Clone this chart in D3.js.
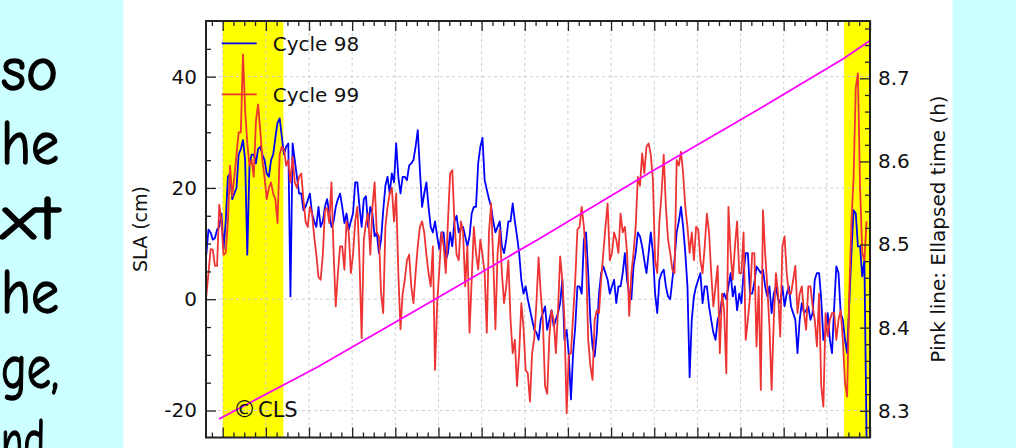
<!DOCTYPE html>
<html>
<head>
<meta charset="utf-8">
<script src="https://cdn.jsdelivr.net/npm/d3@7"></script>
<style>
  html, body { margin: 0; padding: 0; background: #ccffff; }
  svg { display: block; }
</style>
</head>
<body>
<div id="chart"></div>
<script>
// slide text fragments visible on the left edge
const slideText = ["so", "he", "xt", "he", "ge,", "nd"];

// along-track position of the first sample, and spacing between samples
const trackStart = -3.8;
const trackStep = 0.5;

// SLA (cm), cycle 98 (blue)
const cycle98 = [
  8, 12.5, 12, 10.7, 11, 12.5, 13, 15.4, 9, 14, 22, 22.6, 18, 19, 20, 26, 27, 28.6, 25, 8, 24, 26, 26, 24.4, 27, 27.4,
  26, 25, 22.6, 22, 25, 26, 29, 31.7, 32.5, 29.2, 26, 27.4, 28, 0.5, 28, 25, 22, 19, 19, 16, 16.6, 17.8, 19, 15.4, 14, 13,
  16.6, 13, 14, 16.6, 18, 15.4, 13, 14, 16.6, 18, 19, 16.6, 13.7, 15.4, 12.5, 14, 15.4, 21, 21, 16.6, 13, 18, 18.5, 13, 16.6, 15.4,
  11.3, 12, 8.3, 10.7, 16, 20.4, 22, 19, 22.6, 21, 28, 22, 19, 22, 22, 21.4, 24, 24.4, 25, 27.4, 30.4, 23.2, 16.6, 19, 21, 16.6,
  13, 12, 14, 11.3, 9, 12, 12, 7, 8.3, 12, 9.5, 14, 15, 12, 13, 13, 11.3, 9.5, 11.3, 15.4, 16.6, 16.6, 24.4, 27.4, 29,
  21.4, 19.7, 18, 16.6, 14, 12, 13, 14, 9.5, 8.3, 10.7, 14, 14, 17.2, 14, 11.3, 8.3, 3.5, 1, 2.3, 0, -1.9, -3.7, -5.5, -6,
  -7.3, -3.7, -2.5, -1.3, -5.5, -3.7, -2, -4.9, -3.7, -2.5, -0.7, 3.5, -7.3, -5.5, -10, -18, -9.7, -4.9, 2.3, 2.3, 1, 10.7, 12, 4.7, -3.7, -8.5,
  -10.3, -6, 1, 4.7, 5.9, 4.7, 3.5, 1, 2.3, 3.5, -0.7, 2.3, 2.3, 4.7, 8.3, 3.5, 1, 0, 5.9, 8.3, 12, 11.3, 9.5, 7, 4.7, 8.3,
  12, 8.3, 1, -2.5, 3.5, 4.7, 5.3, 2.3, 0.5, 0, 3.5, 7, 12, 14, 16.6, 13, 8.3, 2.3, -14, -3.7, 0.5, 2.3, 3.5, 4.7, -0.7, 2.3,
  2.3, -1.3, -3.7, -6, -7.3, -3.7, -2.5, 0, 1, 0, 2.3, 4.7, 0.5, 2.3, -2, 1, -0.7, 4.7, 8.3, 8.3, 1, 1, 3, 5.9, 5.3, 4.7,
  5.3, 2.3, 0.5, 2.3, -2.5, 1, 2.3, 0, -0.7, 2.3, -1.3, 1, 2.3, -1.3, -2.5, -3.7, -9.7, -3.7, -0.7, -2.5, -2, -1.3, -3.7, -2.5, 3.5,
  4.7, 4.7, 0, -7.3, -6, -2.5, -7.3, -9.7, -1.3, 5.9, 4.7, -2.5, -3.7, -7.3, -9.7, -0.7, 8.3, 16, 15.4, 9.5, 9.5, 4.1, 7, -24.7
];

// SLA (cm), cycle 99 (red)
const cycle99 = [
  0.5, 4.7, 9, 8.9, 6, 6, 17, 14, 8, 8.3, 14, 24, 18.5, 22, 26, 30, 30, 44, 34, 28, 24, 25, 22, 32, 35, 30.4,
  25, 22, 18, 20, 21, 19, 18, 13.7, 26, 27.4, 27, 24, 25, 21, 25.6, 21, 20, 22, 22.6, 18, 14, 13, 16.6, 15.4, 11.3, 8,
  4, 3.5, 8, 16, 16.4, 13.7, 21, 8.3, -1.3, 4.7, 9.5, 9.5, 5.3, 14, 12, 4.7, 8, 14, 16.6, 7, -7, 10.7, 13.7, 15.4, 8, 16.6,
  21, 12, 11.3, 1, -2.5, 13, 16.6, 19, 20, 14, 19, 4.7, -5.4, 1, 3.5, 7, 8, 2.3, -0.7, 4.7, 9.5, 13, 14, 12, 8, 4.7,
  2.3, 9.5, -12.7, -0.7, 5.3, 12, 9.5, 4.7, 14, 22.6, 23.2, 14, 8, 7, 14, 12, 2.3, 9.5, -6, 3.5, 13, 8.3, 5.3, 10.7, 8,
  4.7, -6, 12, 17.2, 7, -5.4, 8.3, 12.5, 4.7, -0.7, 2.3, 7, -3.7, -9.7, -7.3, -15.6, -9.7, -0.7, -5, -12.7, -13.3, -18.4, -9.7, -7, -0.7,
  7.5, 1, -4, -15.6, -17, -6.7, -2, -3.7, -9.7, -2, 7.7, 3.5, -3.7, -20.5, -10, -9.7, -3, 3.5, 12.5, 13, 16.6, 13, 7, -7.3, -12, -14.5,
  -3.7, -2, -2.5, 3.5, 8.3, 13, 17.2, 7, 8.3, 12, 10.7, 8.3, 15.4, 12, 13, 8.3, -3, 4.7, 8.3, 13, 22, 20.4, 26.2, 22.6, 27.4, 28,
  26, 21.4, 7, 4.7, 14, 19, 26, 16.6, 10.7, 8.3, 5.3, 4.7, 25, 24, 26.5, 22.6, 16.6, 13, 8.3, 12, 7, 13, 12.5, 7, 4.7, 9.5,
  15.4, 12, 4.7, -1.3, 2.3, 6, -9.7, 1, -2, -13.3, 16.6, 8.3, 3.5, 9.5, 14, 4.7, 4.7, 12, -7.3, -3.7, 0.5, 8.3, 8.3, -8.5, 2.3, -16.3,
  16, 8.3, 2.3, -5, -16.3, -3.7, 4.7, 1, -6.7, 9.5, 11.3, 4.7, 1, 1, 3.5, 6, -2.5, 1, 2.3, -2.5, -5.5, 2.3, 2.3, -1.3, -3.7,
  -8.5, 1, -15.6, -19.3, -2.5, -6.7, -3.7, -2.5, -2.5, -7.3, -3.7, -2, -7.3, -15, -17.5, 1, 14, 22, 38, 40.6, 20, 8.3, 7, 14
];

// pink line: elapsed time (h) along track
const pinkTrack = [-0.86, 22.1, 47.8, 73.55, 99.3, 125.0, 144.0, 149.93];
const pinkHours = [8.290, 8.353, 8.430, 8.5075, 8.5876, 8.6651, 8.7241, 8.7452];

// yellow highlighted stretches (along-track)
const bandStart = [0, 144];
const bandEnd = [14.05, 150];

const slaTicks = [-20, 0, 20, 40];
const hourTicks = [8.3, 8.4, 8.5, 8.6, 8.7];
const trackTicks = [0, 10, 20, 30, 40, 50, 60, 70, 80, 90, 100, 110, 120, 130, 140, 150];

const seriesNames = ["Cycle 98", "Cycle 99"];
const seriesColors = ["#0000ff", "#ee3333"];

(function() {
    const W = 1016, H = 448;
    const margin = {top: 21, left: 206};
    const width = 664;
    const height = 416.5;

    const root = d3.select("#chart").append("svg")
        .attr("width", W)
        .attr("height", H)
        .style("font-family", "'DejaVu Sans', sans-serif");

    // slide background: cyan sides, white panel
    root.append("rect").attr("width", W).attr("height", H).attr("fill", "#ccffff");
    root.append("rect").attr("x", 123.5).attr("y", 0).attr("width", 829).attr("height", H).attr("fill", "#ffffff");

    // cut-off slide text on the left, each fragment stretched to the same width as in the slide
    const fragWidth = [57, 58, 58, 58, 58, 44];
    slideText.forEach((t, i) => {
        root.append("text")
            .attr("x", 1)
            .attr("y", 90 + i * 74.4)
            .attr("textLength", fragWidth[i])
            .attr("lengthAdjust", "spacingAndGlyphs")
            .style("font-family", "'Comic Sans MS', 'Comic Neue', 'DejaVu Sans', sans-serif")
            .style("font-size", "62px")
            .style("fill", "#000")
            .style("stroke", "#000")
            .style("stroke-width", 1.4)
            .text(t);
    });

    const svg = root.append("g")
        .attr("transform", `translate(${margin.left},${margin.top})`);

    const x = d3.scaleLinear().domain([-3.87, 150]).range([0, width]);
    const y = d3.scaleLinear().domain([-24.85, 50]).range([height, 0]);
    const y2 = d3.scaleLinear().domain([8.2678, 8.769]).range([height, 0]);

    svg.append("clipPath").attr("id", "plot-clip")
        .append("rect").attr("width", width).attr("height", height);

    // yellow bands
    svg.selectAll("rect.band")
        .data(bandStart)
        .enter()
        .append("rect")
        .attr("class", "band")
        .attr("x", d => x(d))
        .attr("y", 0)
        .attr("width", (d, i) => x(bandEnd[i]) - x(d))
        .attr("height", height)
        .attr("fill", "#ffff00");

    // grid
    const grid = svg.append("g").attr("stroke", "#cfcfcf").attr("stroke-dasharray", "3,3").attr("stroke-width", 1);
    trackTicks.forEach(t => {
        grid.append("line").attr("x1", x(t)).attr("x2", x(t)).attr("y1", 0).attr("y2", height);
    });
    slaTicks.forEach(t => {
        grid.append("line").attr("x1", 0).attr("x2", width).attr("y1", y(t)).attr("y2", y(t));
    });

    // series
    const line = d3.line()
        .x((d, i) => x(trackStart + i * trackStep))
        .y(d => y(d));

    const plot = svg.append("g").attr("clip-path", "url(#plot-clip)");
    [cycle98, cycle99].forEach((s, k) => {
        plot.append("path")
            .datum(s)
            .attr("fill", "none")
            .attr("stroke", seriesColors[k])
            .attr("stroke-width", 1.8)
            .attr("stroke-linejoin", "round")
            .attr("d", line);
    });

    const pinkLine = d3.line()
        .x((d, i) => x(pinkTrack[i]))
        .y(d => y2(d));
    plot.append("path")
        .datum(pinkHours)
        .attr("fill", "none")
        .attr("stroke", "#ff00ff")
        .attr("stroke-width", 1.8)
        .attr("d", pinkLine);

    // axes: ticks pointing inward on all sides
    const minorX = d3.range(-2.5, 151, 2.5).filter(v => v % 10 !== 0);
    const minorY = d3.range(-20, 50, 5).filter(v => v % 20 !== 0);
    const minorY2 = d3.range(8.28, 8.77, 0.02).filter(v => Math.abs(v * 10 - Math.round(v * 10)) > 0.01);

    function styleAxis(g) {
        g.select(".domain").remove();
        g.selectAll(".tick line").attr("stroke", "#222").attr("stroke-width", 1.3);
        g.selectAll("text").style("font-size", "20px").style("fill", "#111")
            .style("font-family", "'DejaVu Sans', sans-serif");
    }

    svg.append("g").call(d3.axisTop(x).tickValues(trackTicks).tickSize(-10).tickFormat("")).call(styleAxis);
    svg.append("g").call(d3.axisTop(x).tickValues(minorX).tickSize(-5).tickFormat("")).call(styleAxis);
    svg.append("g").attr("transform", `translate(0,${height})`)
        .call(d3.axisBottom(x).tickValues(trackTicks).tickSize(-10).tickFormat("")).call(styleAxis);
    svg.append("g").attr("transform", `translate(0,${height})`)
        .call(d3.axisBottom(x).tickValues(minorX).tickSize(-5).tickFormat("")).call(styleAxis);

    svg.append("g").call(d3.axisLeft(y).tickValues(slaTicks).tickSize(-10).tickPadding(9).tickFormat(d => String(d))).call(styleAxis);
    svg.append("g").call(d3.axisLeft(y).tickValues(minorY).tickSize(-5).tickFormat("")).call(styleAxis);

    svg.append("g").attr("transform", `translate(${width},0)`)
        .call(d3.axisRight(y2).tickValues(hourTicks).tickSize(-10).tickPadding(8).tickFormat(d3.format(".1f"))).call(styleAxis);
    svg.append("g").attr("transform", `translate(${width},0)`)
        .call(d3.axisRight(y2).tickValues(minorY2).tickSize(-5).tickFormat("")).call(styleAxis);

    // frame
    svg.append("rect")
        .attr("width", width)
        .attr("height", height)
        .attr("fill", "none")
        .attr("stroke", "#222")
        .attr("stroke-width", 2);

    // axis titles
    svg.append("text")
        .attr("transform", "rotate(-90)")
        .attr("x", -(229 - margin.top))
        .attr("y", 140 - margin.left)
        .attr("text-anchor", "middle")
        .attr("dominant-baseline", "central")
        .style("font-size", "19px")
        .style("fill", "#111")
        .text("SLA (cm)");

    svg.append("text")
        .attr("transform", "rotate(-90)")
        .attr("x", -(229 - margin.top))
        .attr("y", 938 - margin.left)
        .attr("text-anchor", "middle")
        .attr("dominant-baseline", "central")
        .style("font-size", "20px")
        .style("fill", "#111")
        .text("Pink line: Ellapsed time (h)");

    // legend
    const legendY = [43.3, 94.3];
    seriesNames.forEach((name, i) => {
        const row = svg.append("g").attr("transform", `translate(0,${legendY[i] - margin.top})`);
        row.append("line")
            .attr("x1", 221.7 - margin.left).attr("x2", 256.7 - margin.left)
            .attr("stroke", seriesColors[i]).attr("stroke-width", 1.8);
        row.append("text")
            .attr("x", 272.7 - margin.left)
            .attr("y", 7.3)
            .style("font-size", "20px")
            .style("fill", "#111")
            .text(name);
    });

    // copyright
    const copy = svg.append("text")
        .attr("x", 233 - margin.left)
        .attr("y", 417.3 - margin.top)
        .style("font-size", "21px")
        .style("fill", "#111");
    copy.append("tspan").style("font-size", "23px").text("\u00a9");
    copy.append("tspan").attr("dx", 2).text("CLS");
})();
</script>
</body>
</html>
